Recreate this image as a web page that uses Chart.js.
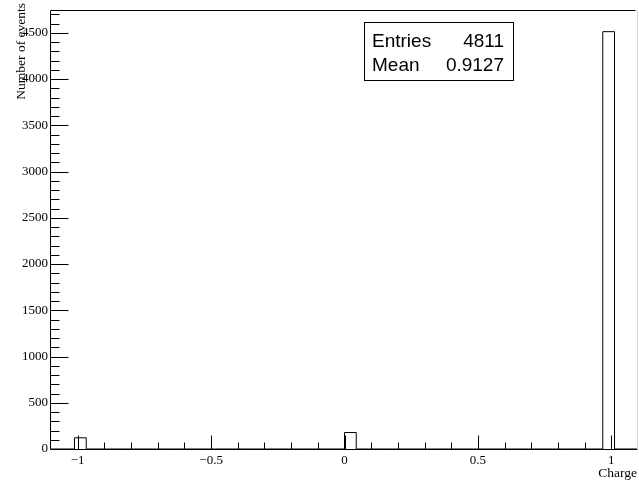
<!DOCTYPE html>
<html>
<head>
<meta charset="utf-8">
<title>Charge</title>
<script src="https://cdn.jsdelivr.net/npm/chart.js@4"></script>
<style>
  html, body { margin: 0; padding: 0; background: #fff; }
  #wrap { width: 639px; height: 484px; }
</style>
</head>
<body>
<div id="wrap"><canvas id="c" width="639" height="484"></canvas></div>
<script>
// Filled charge values and the number of events at each
const charges = [-1, 0, 1];
const counts = [121, 178, 4512];

// Histogram binning
const nBins = 50;
const xMin = -1.1;
const xMax = 1.1;

// Axis tick labels
const xTickLabels = [-1, -0.5, 0, 0.5, 1];
const yTickLabels = [0, 500, 1000, 1500, 2000, 2500, 3000, 3500, 4000, 4500];

// Fill the bins
const binWidth = (xMax - xMin) / nBins;
const binContent = new Array(nBins).fill(0);
charges.forEach((q, i) => {
  const b = Math.floor((q - xMin) / binWidth + 1e-9);
  binContent[b] += counts[i];
});
const histPoints = binContent.map((c, k) => ({ x: xMin + k * binWidth, y: c }));
histPoints.push({ x: xMax, y: 0 });

const entries = counts.reduce((a, b) => a + b, 0);
const mean = charges.reduce((s, q, i) => s + q * counts[i], 0) / entries;
const yMax = 1.05 * Math.max(...binContent);

function fmt(v) {
  if (v === 0) return '0';
  return v < 0 ? '\u2212' + String(Math.abs(v)) : String(v);
}

const serif = '"Liberation Serif", "Times New Roman", serif';
const sans = '"Liberation Sans", Arial, sans-serif';

// Frame, inward tick marks, axis titles and the statistics box
const decorations = {
  id: 'decorations',
  afterDraw(chart) {
    const ctx = chart.ctx;
    const xs = chart.scales.x, ys = chart.scales.y;
    const a = chart.chartArea;
    const L = Math.floor(a.left) - 0.5;
    const B = Math.round(a.bottom) + 0.5;
    const T = Math.round(a.top) - 0.5;
    const R = Math.round(a.right) - 0.5;
    ctx.save();
    ctx.lineWidth = 1;
    ctx.strokeStyle = '#000';
    ctx.beginPath();
    ctx.moveTo(L, T); ctx.lineTo(R - 2, T);
    ctx.moveTo(L, T); ctx.lineTo(L, B);
    ctx.moveTo(L, B); ctx.lineTo(R, B);
    ctx.stroke();
    ctx.strokeStyle = '#d8d8d8';
    ctx.beginPath();
    ctx.moveTo(R, T); ctx.lineTo(R, B);
    ctx.stroke();

    ctx.strokeStyle = '#000';
    ctx.beginPath();
    // y axis: majors every 500, minors every 100
    for (let v = 0; v <= yMax; v += 100) {
      const y = Math.round(ys.getPixelForValue(v)) + 0.5;
      const len = (v % 500 === 0) ? 18 : 9;
      if (v === 0) continue;
      ctx.moveTo(L, y); ctx.lineTo(L + len, y);
    }
    // x axis: majors every 0.5, minors every 0.1
    for (let i = -10; i <= 10; i++) {
      const v = i / 10;
      const x = Math.round(xs.getPixelForValue(v)) + 0.5;
      const len = (i % 5 === 0) ? 14 : 7;
      ctx.moveTo(x, B); ctx.lineTo(x, B - len);
    }
    ctx.stroke();

    // axis titles
    ctx.fillStyle = '#000';
    ctx.font = '13.5px ' + serif;
    ctx.textAlign = 'right';
    ctx.textBaseline = 'alphabetic';
    ctx.fillText('Charge', 637, 477);
    ctx.save();
    ctx.translate(25, 3);
    ctx.rotate(-Math.PI / 2);
    ctx.textAlign = 'right';
    ctx.fillText('Number of events', 0, 0);
    ctx.restore();

    // statistics box
    ctx.fillStyle = '#fff';
    ctx.fillRect(364.5, 22.5, 149, 58);
    ctx.strokeStyle = '#000';
    ctx.strokeRect(364.5, 22.5, 149, 58);
    ctx.fillStyle = '#000';
    ctx.font = '19px ' + sans;
    ctx.textAlign = 'left';
    ctx.fillText('Entries', 372, 47);
    ctx.fillText('Mean', 372, 71);
    ctx.textAlign = 'right';
    ctx.fillText(String(entries), 504, 47);
    ctx.fillText(mean.toFixed(4), 504, 71);
    ctx.restore();
  }
};

new Chart(document.getElementById('c'), {
  type: 'line',
  data: {
    datasets: [{
      data: histPoints,
      stepped: 'before',
      borderColor: '#000',
      borderWidth: 1,
      pointRadius: 0,
      fill: false,
      tension: 0
    }]
  },
  options: {
    responsive: false,
    animation: false,
    events: [],
    layout: { padding: { top: 6, right: 1, left: 0, bottom: 0 } },
    plugins: { legend: { display: false }, tooltip: { enabled: false } },
    scales: {
      x: {
        type: 'linear',
        min: xMin,
        max: xMax,
        grid: { display: false, drawTicks: false },
        border: { display: false },
        afterBuildTicks(scale) { scale.ticks = xTickLabels.map(v => ({ value: v })); },
        afterFit(scale) { scale.height = 35; },
        ticks: {
          autoSkip: false,
          maxRotation: 0,
          padding: 4,
          color: '#000',
          font: { family: serif, size: 13 },
          callback: v => fmt(v)
        }
      },
      y: {
        type: 'linear',
        min: 0,
        max: yMax,
        grid: { display: false, drawTicks: false },
        border: { display: false },
        afterBuildTicks(scale) { scale.ticks = yTickLabels.map(v => ({ value: v })); },
        afterFit(scale) { scale.width = 51; },
        ticks: {
          autoSkip: false,
          padding: 3,
          color: '#000',
          font: { family: serif, size: 13 },
          callback: v => fmt(v)
        }
      }
    }
  },
  plugins: [decorations]
});
</script>
</body>
</html>
